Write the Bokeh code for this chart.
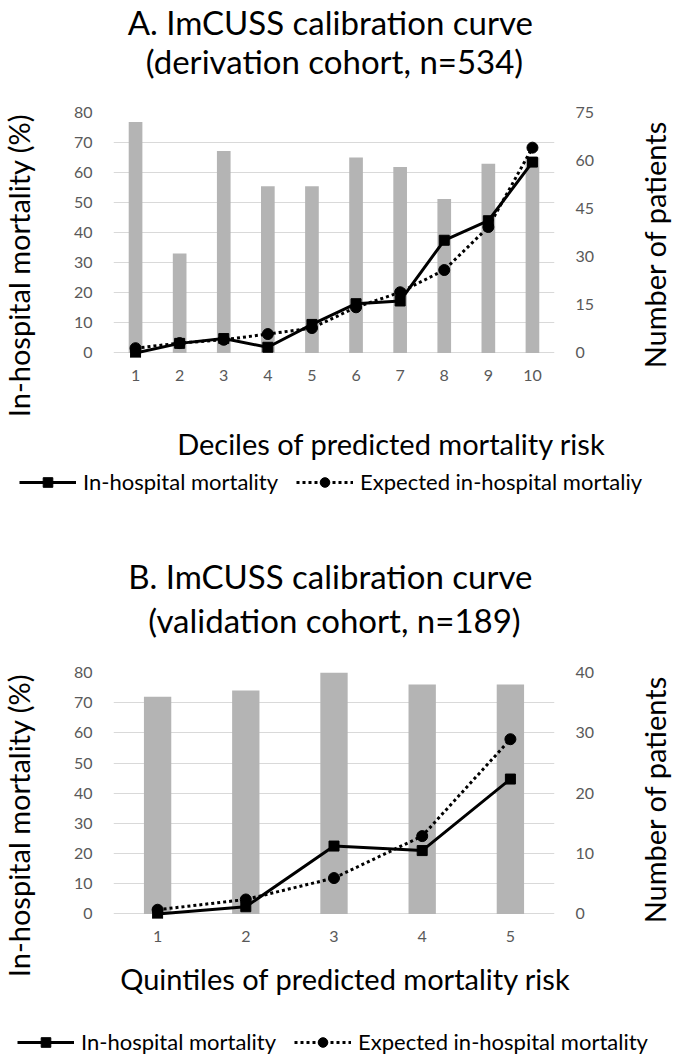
import math
from bokeh.plotting import figure
from bokeh.models import (Range1d, LinearAxis, SingleIntervalTicker, FixedTicker,
                          Legend, LegendItem, Label)
from bokeh.layouts import column, row
from bokeh.embed import file_html
from bokeh.resources import INLINE

# ---------------- data ----------------
deciles = [1, 2, 3, 4, 5, 6, 7, 8, 9, 10]
a_patients = [72, 31, 63, 52, 52, 61, 58, 48, 59, 61]
a_observed = [0.0, 3.2, 4.8, 1.9, 9.5, 16.4, 17.3, 37.5, 44.0, 63.5]
a_expected = [1.6, 3.3, 4.4, 6.3, 8.3, 15.2, 20.2, 27.6, 41.9, 68.3]

quintiles = [1, 2, 3, 4, 5]
b_patients = [36, 37, 40, 38, 38]
b_observed = [0.0, 2.4, 22.5, 21.0, 44.7]
b_expected = [1.4, 4.8, 11.9, 25.8, 57.9]

FONT = "Lato"
GRAY_TXT = "#595959"
BAR = "#B4B4B4"
GRID = "#D9D9D9"
LEFT_MAX = 80
PAD = 1.5  # room below zero so that markers at 0 are not clipped
W = 673
SIDE = 40
MID = W - 2 * SIDE


def blank(w, h, xr=(0, 1)):
    f = figure(width=w, height=h, x_axis_type=None, y_axis_type=None,
               x_range=Range1d(*xr), y_range=Range1d(0, 1), title=None,
               output_backend="svg", toolbar_location=None, min_border=0)
    f.outline_line_color = None
    return f


def text_fig(w, h, items):
    f = blank(w, h)
    for text, x, y, size, angle in items:
        f.add_layout(Label(x=x, y=y, x_units="screen", y_units="screen", text=text,
                           text_font=FONT, text_font_size=size, text_color="black",
                           text_align="center", text_baseline="middle", angle=angle))
    return f


def bare(ax):
    ax.axis_line_color = None
    ax.major_tick_line_color = None
    ax.minor_tick_line_color = None
    ax.major_tick_in = 0
    ax.major_tick_out = 0
    ax.minor_tick_in = 0
    ax.minor_tick_out = 0
    ax.major_label_text_font = FONT
    ax.major_label_text_font_size = "16px"
    ax.major_label_text_color = GRAY_TXT


def chart(cats, patients, observed, expected, right_max, right_step, height, frame_h):
    p = figure(width=MID, height=height,
               x_range=Range1d(cats[0] - 0.5, cats[-1] + 0.5),
               y_range=Range1d(-PAD, LEFT_MAX), title=None,
               output_backend="svg", toolbar_location=None,
               min_border_left=73, min_border_right=79,
               min_border_top=17, min_border_bottom=height - 17 - frame_h)
    p.outline_line_color = None
    p.xgrid.grid_line_color = None
    p.xaxis.ticker = FixedTicker(ticks=cats)
    p.yaxis.ticker = SingleIntervalTicker(interval=10)
    p.ygrid.grid_line_color = GRID
    p.ygrid.grid_line_width = 1.2

    p.extra_y_ranges = {"n": Range1d(-PAD * right_max / LEFT_MAX, right_max)}
    rax = LinearAxis(y_range_name="n", ticker=SingleIntervalTicker(interval=right_step))
    p.add_layout(rax, "right")
    for ax in [p.xaxis[0], p.yaxis[0], rax]:
        bare(ax)
    p.xaxis.major_label_standoff = 12
    p.yaxis.major_label_standoff = 21
    rax.major_label_standoff = 21

    p.vbar(x=cats, top=patients, bottom=0, width=0.31, y_range_name="n",
           fill_color=BAR, line_color=None)
    p.line(cats, expected, line_color="black", line_width=3, line_dash="3 3")
    p.scatter(cats, expected, marker="circle", size=11, color="black")
    p.line(cats, observed, line_color="black", line_width=3)
    p.scatter(cats, observed, marker="square", size=10, color="black")
    return p


def legend_fig(h, cats, observed, expected, exp_label, loc):
    # renderers carry the series but lie outside this strip's range; only the key shows
    f = blank(W, h, xr=(-1, 0))
    l1 = f.line(cats, observed, line_color="black", line_width=3)
    s1 = f.scatter(cats, observed, marker="square", size=10, color="black")
    l2 = f.line(cats, expected, line_color="black", line_width=3, line_dash="3 3")
    s2 = f.scatter(cats, expected, marker="circle", size=11, color="black")
    lg = Legend(items=[LegendItem(label="In-hospital mortality", renderers=[l1, s1]),
                       LegendItem(label=exp_label, renderers=[l2, s2])],
                orientation="horizontal", location=loc,
                glyph_width=57, glyph_height=24, label_height=24,
                label_standoff=7, spacing=18,
                padding=0, margin=0, border_line_color=None, background_fill_alpha=0,
                label_text_font=FONT, label_text_font_size="22px", label_text_color="black")
    f.add_layout(lg, "center")
    return f


def block(cats, patients, observed, expected, right_max, right_step,
          t1, t2, xtitle, exp_label, g):
    head = text_fig(MID, g["head_h"], [
        (t1, 294, g["t1_y"], "33px", 0),
        (t2, 294, g["t2_y"], "33px", 0)])
    ch = chart(cats, patients, observed, expected, right_max, right_step,
               g["chart_h"], g["frame_h"])
    xt = text_fig(MID, g["xt_h"], [(xtitle, g["xt_x"], g["xt_y"], "29px", 0)])
    mid = column(row(head), ch, row(xt))
    total = g["head_h"] + g["chart_h"] + g["xt_h"]
    left = text_fig(SIDE, total, [("In-hospital mortality (%)", 18, g["yl_y"], "29px",
                                   math.pi / 2)])
    right = text_fig(SIDE, total, [("Number of patients", 21, g["yr_y"], "29px",
                                    math.pi / 2)])
    leg = legend_fig(g["leg_h"], cats, observed, expected, exp_label, g["leg_loc"])
    return column(row(left, mid, right), leg)


blockA = block(deciles, a_patients, a_observed, a_expected, 75, 15,
               "A.  ImCUSS calibration curve", "(derivation cohort, n=534)",
               "Deciles of predicted mortality risk", "Expected in-hospital mortaliy",
               g={"head_h": 95, "t1_y": 74, "t2_y": 35, "chart_h": 297, "frame_h": 245,
                  "xt_h": 73, "xt_x": 351, "xt_y": 22, "yl_y": 200, "yr_y": 221,
                  "leg_h": 75, "leg_loc": (19, 45)})

blockB = block(quintiles, b_patients, b_observed, b_expected, 40, 10,
               "B.  ImCUSS calibration curve", "(validation cohort, n=189)",
               "Quintiles of predicted mortality risk", "Expected in-hospital mortality",
               g={"head_h": 115, "t1_y": 80, "t2_y": 36, "chart_h": 298, "frame_h": 246,
                  "xt_h": 52, "xt_x": 305, "xt_y": 27, "yl_y": 180, "yr_y": 206,
                  "leg_h": 52, "leg_loc": (17, 2)})

layout = column(blockA, blockB)
open("out.html", "w").write(file_html(layout, INLINE))
